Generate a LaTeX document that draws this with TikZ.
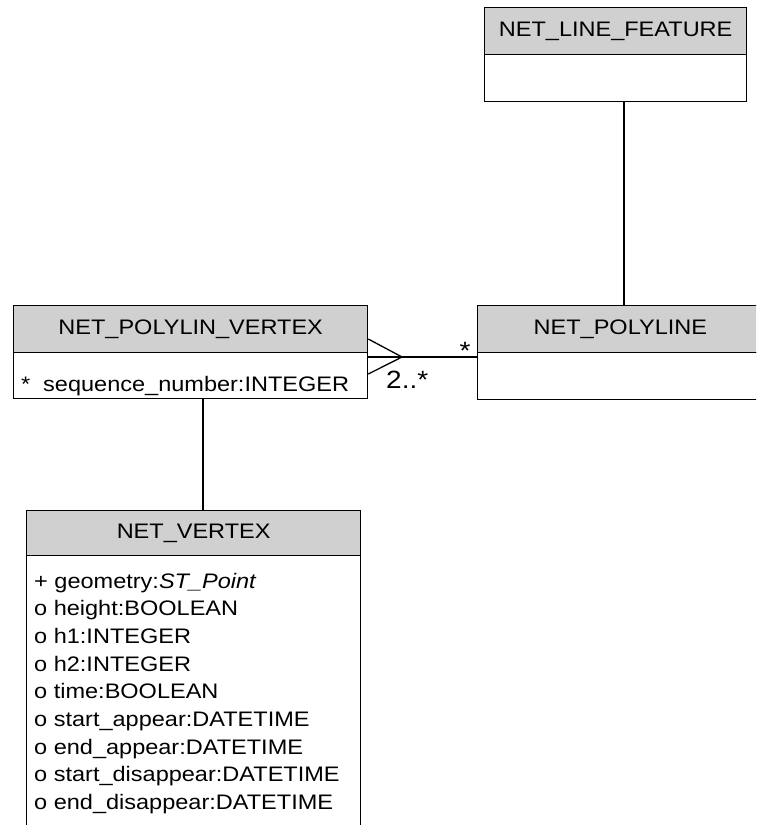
\documentclass[tikz,border=0pt]{standalone}
\usepackage{fontspec}
\setmainfont{Liberation Sans}[FakeStretch=1.12]
\definecolor{hdrgray}{HTML}{D0D0D0}
\begin{document}
\begin{tikzpicture}[x=1pt,y=-1pt,
  boxline/.style={draw=black, line width=1.3pt},
  hdr/.style={boxline, fill=hdrgray, inner sep=0pt, anchor=north west, font=\fontsize{21}{25}\selectfont},
  bodybox/.style={boxline, fill=white, inner sep=0pt, anchor=north west},
  attr/.style={anchor=base west, inner sep=0pt, font=\fontsize{21}{25}\selectfont},
  conn/.style={draw=black, line width=1.3pt},
  mult/.style={inner sep=0pt, font=\fontsize{25}{30}\selectfont}]
\useasboundingbox (0,0) rectangle (756,825);
\clip (0,0) rectangle (756,825);

% NET_LINE_FEATURE
\node[hdr, minimum width=262pt, minimum height=47pt] (lfh) at (484,7) {NET\_LINE\_FEATURE};
\node[bodybox, minimum width=262pt, minimum height=47pt] (lfb) at (484,54) {};

% NET_POLYLINE
\node[hdr, minimum width=300pt, minimum height=47pt, text width=280pt, align=left] (plh) at (477,305) {\hspace*{46pt}NET\_POLYLINE};
\node[bodybox, minimum width=300pt, minimum height=47pt] (plb) at (477,352) {};

% NET_POLYLIN_VERTEX
\node[hdr, minimum width=354pt, minimum height=47pt] (pvh) at (13,305) {NET\_POLYLIN\_VERTEX};
\node[bodybox, minimum width=354pt, minimum height=46pt] (pvb) at (13,352) {};
\node[attr] (pva1) at (21,391) {*};
\node[attr] (pva2) at (43,391) {sequence\_number:INTEGER};

% NET_VERTEX
\node[hdr, minimum width=334pt, minimum height=45pt] (nvh) at (26,510) {NET\_VERTEX};
\node[bodybox, minimum width=334pt, minimum height=300pt] (nvb) at (26,555) {};
\node[attr] (a1) at (34,588.0) {+ geometry:\textit{ST\_Point}};
\node[attr] (a2) at (34,615.7) {o height:BOOLEAN};
\node[attr] (a3) at (34,643.4) {o h1:INTEGER};
\node[attr] (a4) at (34,671.1) {o h2:INTEGER};
\node[attr] (a5) at (34,698.8) {o time:BOOLEAN};
\node[attr] (a6) at (34,726.5) {o start\_appear:DATETIME};
\node[attr] (a7) at (34,754.2) {o end\_appear:DATETIME};
\node[attr] (a8) at (34,781.9) {o start\_disappear:DATETIME};
\node[attr] (a9) at (34,809.6) {o end\_disappear:DATETIME};

% connectors
\coordinate (lfx) at (624,0);
\draw[conn] (lfb.south -| lfx) -- (plh.north -| lfx);
\coordinate (pvx) at (203,0);
\draw[conn] (pvb.south -| pvx) -- (nvh.north -| pvx);

% crow's foot association
\coordinate (cf) at (402,357);
\coordinate (cfa) at (367,339);
\coordinate (cfb) at (367,374);
\draw[conn] (pvb.east |- cf) -- (plb.west |- cf);
\draw[conn] (pvh.east |- cfa) -- (cf) -- (pvb.east |- cfb);
\node[mult, anchor=base] (m1) at (465,359) {*};
\node[mult, anchor=base west] (m2) at (386,388) {2..*};
\end{tikzpicture}
\end{document}
